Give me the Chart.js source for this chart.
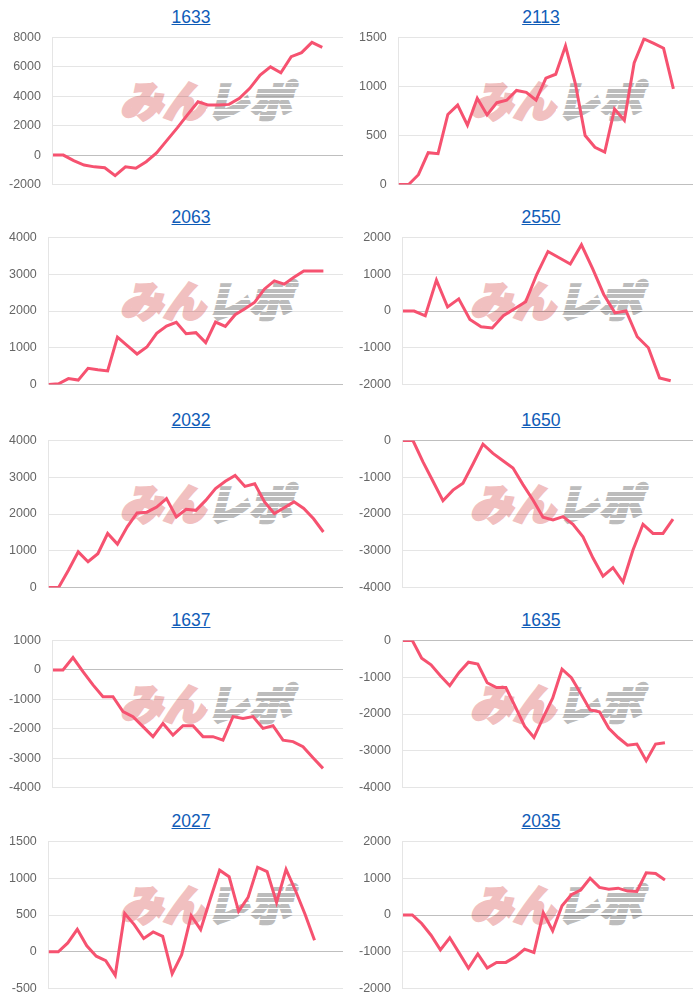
<!DOCTYPE html>
<html lang="ja">
<head>
<meta charset="utf-8">
<title>差枚グラフ</title>
<script src="https://cdn.jsdelivr.net/npm/chart.js@4.4.1/dist/chart.umd.min.js"></script>
<style>
  html, body { margin: 0; padding: 0; background: #fff; }
  #page { position: relative; width: 700px; height: 1004px; overflow: hidden; }
  .title {
    position: absolute; width: 120px; margin-left: -60px; text-align: center;
    font: 17.5px "Liberation Sans", Arial, sans-serif; line-height: 20px;
  }
  .title a { color: #0f5cb8; text-decoration: underline; }
  .mark {
    position: absolute; white-space: nowrap;
    font-family: "Noto Sans CJK JP", sans-serif; font-weight: 900; font-style: italic;
    font-size: 42px; line-height: 42px; letter-spacing: 1px;
  }
  .mark .p { color: #f1c0c0; -webkit-text-stroke: 3px #f1c0c0; }
  .mark .g { color: #bcbcbc; -webkit-text-stroke: 3px #bcbcbc; }
  .stripes {
    position: absolute; left: 0; top: 0; bottom: 0;
    background: repeating-linear-gradient(to bottom, transparent 0 4px, #fff 4px 5.5px);
  }
  .box { position: absolute; }
</style>
</head>
<body>
<div id="page"></div>
<script>
// 台番号
const titles = ['1633', '2113', '2063', '2550', '2032', '1650', '1637', '1635', '2027', '2035'];
// x軸の日数（ラベル数）
const labelCounts = [29, 31, 31, 27, 31, 30, 30, 32, 32, 32];

// 差枚推移
const s1633 = [0, 0, -380, -680, -800, -860, -1400, -800, -890, -450, 150, 1000, 1850, 2750, 3630, 3400, 3400, 3450, 3860, 4540, 5450, 6000, 5600, 6700, 6970, 7670, 7330];
const s2113 = [0, 0, 100, 325, 315, 715, 810, 605, 880, 710, 835, 860, 960, 940, 860, 1085, 1125, 1415, 1030, 500, 380, 330, 770, 655, 1240, 1485, 1440, 1390, 975];
const s2063 = [0, 20, 160, 120, 440, 400, 370, 1290, 1060, 830, 1020, 1390, 1590, 1690, 1380, 1410, 1140, 1700, 1580, 1900, 2060, 2240, 2600, 2820, 2730, 2920, 3090, 3090, 3090];
const s2550 = [0, 0, -130, 840, 110, 330, -230, -430, -460, -130, 60, 250, 1000, 1620, 1450, 1280, 1800, 1150, 450, -50, 0, -700, -1000, -1820, -1900];
const s2032 = [0, 0, 470, 970, 700, 920, 1470, 1180, 1650, 2030, 2050, 2190, 2420, 1920, 2130, 2100, 2370, 2690, 2890, 3050, 2750, 2820, 2330, 2010, 2170, 2330, 2150, 1870, 1510];
const s1650 = [0, 0, -580, -1110, -1640, -1350, -1160, -640, -100, -350, -550, -750, -1200, -1620, -2090, -2160, -2070, -2280, -2620, -3200, -3690, -3460, -3850, -2980, -2280, -2530, -2530, -2140];
const s1637 = [0, 0, 420, -60, -510, -910, -910, -1420, -1590, -1930, -2270, -1820, -2220, -1900, -1900, -2270, -2270, -2390, -1590, -1650, -1590, -1990, -1900, -2390, -2440, -2610, -2990, -3350];
const s1635 = [0, 0, -480, -660, -960, -1230, -870, -590, -640, -1150, -1280, -1280, -1800, -2330, -2640, -2090, -1570, -780, -1010, -1440, -1890, -1940, -2390, -2640, -2850, -2820, -3270, -2820, -2780];
const s2027 = [0, 0, 120, 305, 80, -60, -120, -320, 520, 370, 180, 270, 210, -300, -40, 490, 300, 710, 1110, 1020, 550, 740, 1150, 1090, 670, 1120, 830, 510, 155];
const s2035 = [0, 0, -230, -550, -950, -620, -1030, -1450, -1060, -1440, -1290, -1290, -1140, -930, -1020, 60, -430, 250, 550, 680, 1000, 750, 700, 730, 650, 640, 1150, 1130, 950];

const series = [s1633, s2113, s2063, s2550, s2032, s1650, s1637, s1635, s2027, s2035];

// y軸の目盛り
const yMins  = [-2000,    0,    0, -2000,    0, -4000, -4000, -4000, -500, -2000];
const yMaxs  = [ 8000, 1500, 4000,  2000, 4000,     0,  1000,     0, 1500,  2000];
const ySteps = [ 2000,  500, 1000,  1000, 1000,  1000,  1000,  1000,  500,  1000];

const page = document.getElementById('page');
const rowTops = [0, 200, 403, 603, 804];

titles.forEach((name, i) => {
  const row = Math.floor(i / 2), col = i % 2;
  const top = rowTops[row];
  const colX = col * 350;

  const t = document.createElement('div');
  t.className = 'title';
  t.style.left = (colX + 191) + 'px';
  t.style.top = (top + 7) + 'px';
  t.innerHTML = `<a href="#">${name}</a>`;
  page.appendChild(t);

  // 透かしロゴ
  const mark = document.createElement('div');
  mark.className = 'mark';
  mark.style.left = (colX + 120) + 'px';
  mark.style.top = (top + 78) + 'px';
  mark.innerHTML = '<span class="p">みん</span><span class="g">レポ</span>';
  page.appendChild(mark);
  const gw = mark.querySelector('.g');
  const st = document.createElement('div');
  st.className = 'stripes';
  st.style.left = gw.offsetLeft + 'px';
  st.style.width = (gw.offsetWidth + 10) + 'px';
  mark.appendChild(st);

  const box = document.createElement('div');
  box.className = 'box';
  box.style.left = (colX - 3) + 'px';
  box.style.top = (top + 18) + 'px';
  box.style.width = '346px';
  box.style.height = '186px';
  const cv = document.createElement('canvas');
  box.appendChild(cv);
  page.appendChild(box);

  const labels = Array.from({ length: labelCounts[i] }, (_, k) => String(k + 1));

  new Chart(cv, {
    type: 'line',
    data: {
      labels,
      datasets: [{
        data: series[i],
        borderColor: 'rgb(246, 82, 112)',
        borderWidth: 3,
        pointRadius: 0,
        tension: 0,
        fill: false
      }]
    },
    options: {
      responsive: true,
      maintainAspectRatio: false,
      animation: false,
      layout: { padding: 0 },
      plugins: { legend: { display: false }, tooltip: { enabled: false } },
      scales: {
        x: { display: false },
        y: {
          min: yMins[i],
          max: yMaxs[i],
          ticks: {
            stepSize: ySteps[i],
            color: '#666',
            padding: 12,
            font: { family: '"Liberation Sans", Arial, sans-serif', size: 12.5 },
            callback: v => String(v)
          },
          grid: {
            drawTicks: false,
            color: c => c.tick && c.tick.value === 0 ? 'rgba(0,0,0,0.25)' : 'rgba(0,0,0,0.1)'
          },
          border: { color: 'rgba(0,0,0,0.1)' }
        }
      }
    }
  });
});
</script>
</body>
</html>
